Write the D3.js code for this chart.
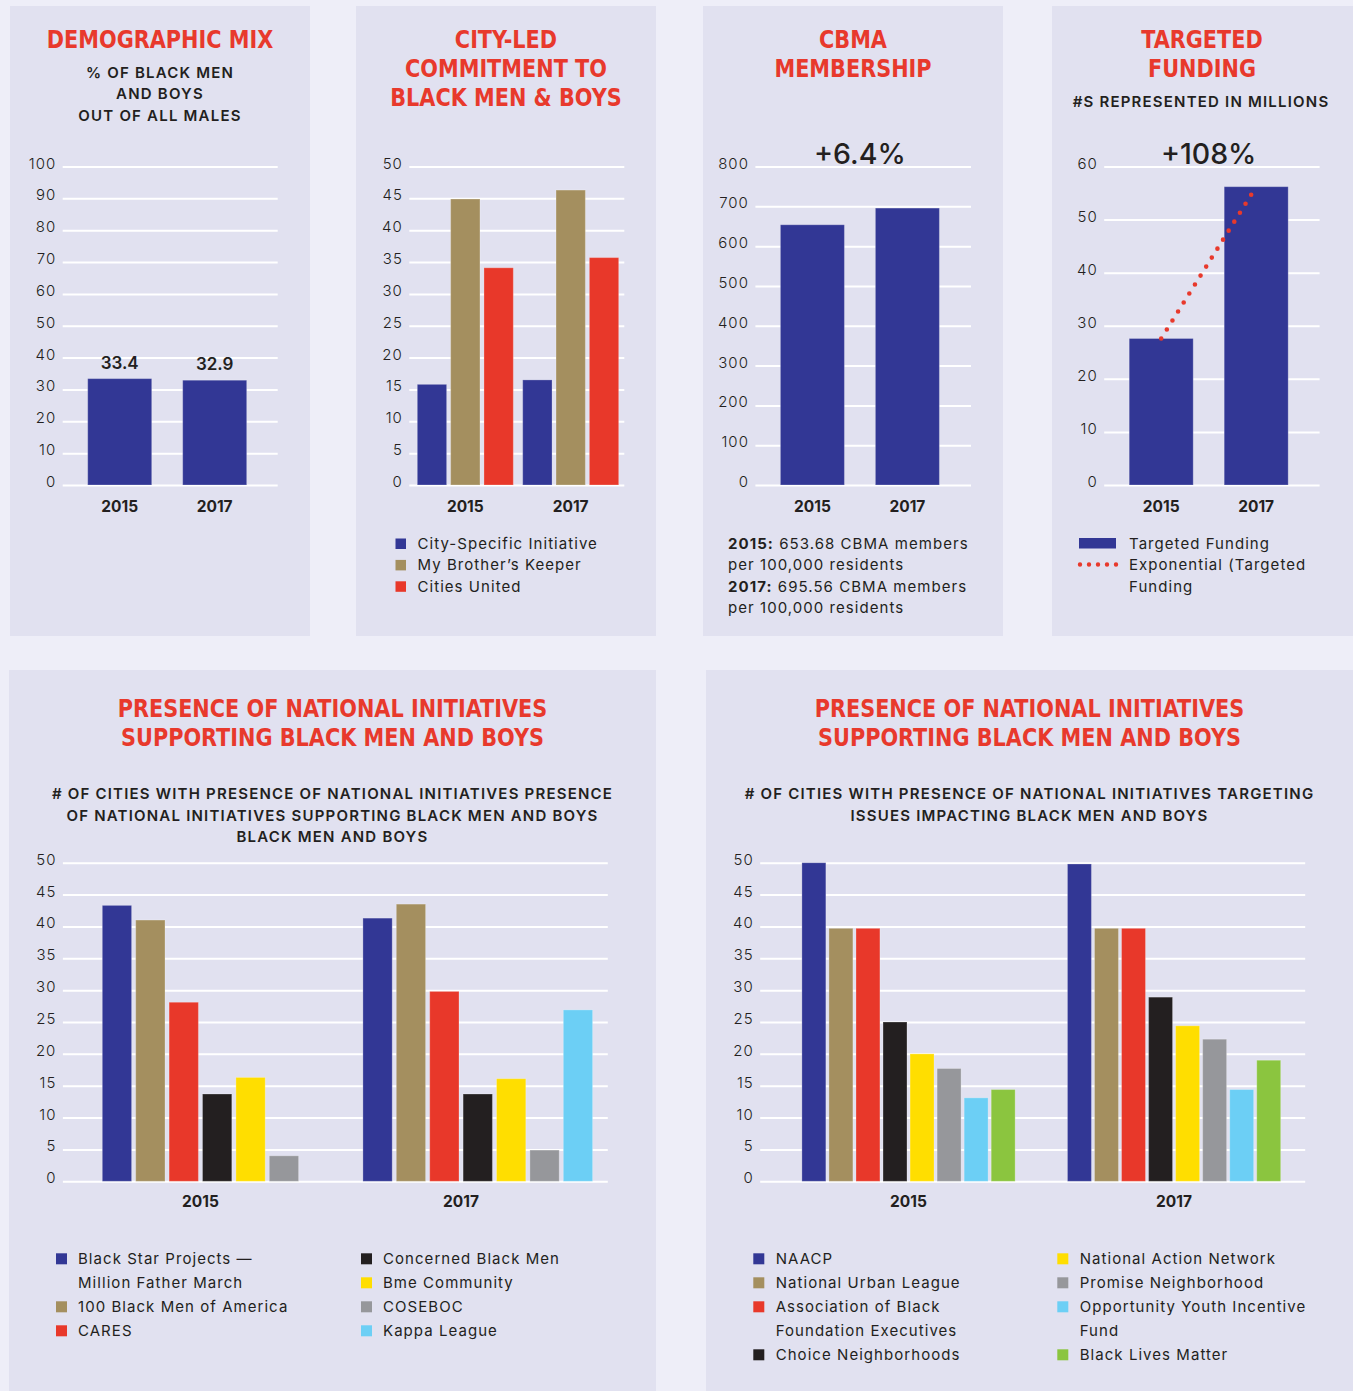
<!DOCTYPE html>
<html>
<head>
<meta charset="utf-8">
<script src="https://cdn.jsdelivr.net/npm/d3@7"></script>
<style>
  body { margin: 0; background: #eeeef8; }
  svg { display: block; }
  .title { font-family: "Liberation Sans Narrow", "Arial Narrow", "DejaVu Sans Condensed", sans-serif; font-weight: 700; font-size: 25px; fill: #e8392c; text-anchor: middle; }
  .sub { font-family: Inter, sans-serif; font-weight: 600; font-size: 15px; letter-spacing: 1.2px; fill: #231f20; text-anchor: middle; }
  .grid text { font-family: Inter, sans-serif; font-weight: 300; font-size: 15px; letter-spacing: 1px; fill: #231f20; }
  .cat { font-family: Inter, sans-serif; font-weight: 700; font-size: 15.5px; fill: #231f20; text-anchor: middle; }
  .val { font-family: Inter, sans-serif; font-weight: 600; font-size: 17px; fill: #231f20; text-anchor: middle; }
  .big { font-family: Inter, sans-serif; font-weight: 500; font-size: 28.5px; fill: #231f20; text-anchor: middle; }
  .leg { font-family: Inter, sans-serif; font-weight: 400; font-size: 15px; letter-spacing: 1.05px; fill: #231f20; }
</style>
</head>
<body>
<div id="chart"></div>
<script>
const width = 1353, height = 1391;

// shared
const years = ["2015", "2017"];
const palette = ["#323795", "#a48f5f", "#e8382a", "#231f20", "#ffde00", "#96979b", "#6ccff5", "#8bc53f"];

// demographic mix
const demoValues = [33.4, 32.9];
const demoTicks = [0, 10, 20, 30, 40, 50, 60, 70, 80, 90, 100];

// city-led commitment
const citySeries = ["City-Specific Initiative", "My Brother’s Keeper", "Cities United"];
const city2015 = [15.8, 44.9, 34.1];
const city2017 = [16.5, 46.3, 35.7];
const cityTicks = [0, 5, 10, 15, 20, 25, 30, 35, 40, 45, 50];

// cbma membership
const cbmaValues = [653.68, 695.56];
const cbmaTicks = [0, 100, 200, 300, 400, 500, 600, 700, 800];
const cbmaChange = "+6.4%";

// targeted funding (millions)
const fundValues = [27.6, 56.2];
const fundTicks = [0, 10, 20, 30, 40, 50, 60];
const fundChange = "+108%";

// national initiatives supporting black men and boys
const natSeries = ["Black Star Projects —\nMillion Father March", "100 Black Men of America", "CARES",
  "Concerned Black Men", "Bme Community", "COSEBOC", "Kappa League"];
const nat2015 = [43.3, 41.0, 28.1, 13.7, 16.3, 4.0, null];
const nat2017 = [41.3, 43.5, 29.8, 13.7, 16.1, 4.9, 26.9];

// national initiatives targeting issues
const tgtSeries = ["NAACP", "National Urban League", "Association of Black\nFoundation Executives",
  "Choice Neighborhoods", "National Action Network", "Promise Neighborhood",
  "Opportunity Youth Incentive\nFund", "Black Lives Matter"];
const tgt2015 = [50.0, 39.7, 39.7, 25.0, 20.0, 17.7, 13.1, 14.4];
const tgt2017 = [49.8, 39.7, 39.7, 28.9, 24.4, 22.3, 14.4, 19.0];
const countTicks = [0, 5, 10, 15, 20, 25, 30, 35, 40, 45, 50];

const svg = d3.select("#chart").append("svg")
  .attr("width", width)
  .attr("height", height);

svg.append("rect").attr("width", width).attr("height", height).attr("fill", "#eeeef8");

// panels
const panels = [[10, 6, 300, 630], [356, 6, 300, 630], [703, 6, 300, 630], [1052, 6, 301, 630],
  [9, 670, 647, 721], [706, 670, 647, 721]];
svg.append("g").selectAll("rect").data(panels).join("rect")
  .attr("x", d => d[0]).attr("y", d => d[1])
  .attr("width", d => d[2]).attr("height", d => d[3])
  .attr("fill", "#e1e1f0");

function lines(cls, cx, y0, step, arr) {
  svg.append("g").selectAll("text").data(arr).join("text")
    .attr("class", cls)
    .attr("x", cx)
    .attr("y", (d, i) => y0 + i * step)
    .text(d => d);
}

function grid(x1, x2, y, ticks) {
  svg.append("g")
    .attr("class", "grid")
    .attr("transform", `translate(${x1},0)`)
    .call(d3.axisLeft(y).tickValues(ticks).tickSize(-(x2 - x1)).tickPadding(6.5))
    .call(g => g.select(".domain").remove())
    .call(g => g.selectAll("line").attr("stroke", "#fff").attr("stroke-width", 2))
    .call(g => g.selectAll("text").attr("dy", "0.1em"));
}

// two-bar charts (top row)
function simpleBars(gx1, gx2, values, max, ticks) {
  const y = d3.scaleLinear().domain([0, max]).range([485, 166.5]);
  const x = d3.scaleBand().domain(years).range([gx1 + 25, gx1 + 184]).paddingInner(0.326);
  grid(gx1, gx2, y, ticks);
  svg.append("g").selectAll("rect").data(values).join("rect")
    .attr("x", (d, i) => x(years[i]))
    .attr("y", d => y(d))
    .attr("width", x.bandwidth())
    .attr("height", d => y(0) - y(d))
    .attr("fill", palette[0])
    .attr("stroke", "rgba(255,255,255,0.25)");
  svg.append("g").selectAll("text").data(years).join("text")
    .attr("class", "cat")
    .attr("x", d => x(d) + x.bandwidth() / 2)
    .attr("y", 512)
    .text(d => d);
  return { x, y };
}

// grouped bars
function groupedBars(x0, x1, y, seriesValues) {
  const rows = [];
  years.forEach((yr, yi) => seriesValues[yi].forEach((v, si) => {
    if (v != null) rows.push({ yr, si, v });
  }));
  svg.append("g").selectAll("rect").data(rows).join("rect")
    .attr("x", d => x0(d.yr) + x1(d.si))
    .attr("y", d => y(d.v))
    .attr("width", x1.bandwidth())
    .attr("height", d => y(0) - y(d.v))
    .attr("fill", d => palette[d.si])
    .attr("stroke", "rgba(255,255,255,0.25)");
}

// ---------- 1. demographic mix ----------
lines("title", 160, 47.5, 29, ["DEMOGRAPHIC MIX"]);
lines("sub", 160, 77.6, 21.7, ["% OF BLACK MEN", "AND BOYS", "OUT OF ALL MALES"]);
const demo = simpleBars(62.7, 277.7, demoValues, 100, demoTicks);
svg.append("g").selectAll("text").data(demoValues).join("text")
  .attr("class", "val")
  .attr("x", (d, i) => demo.x(years[i]) + demo.x.bandwidth() / 2)
  .attr("y", d => demo.y(d) - 10)
  .text(d => d);

// ---------- 2. city-led commitment ----------
lines("title", 506, 47.5, 29, ["CITY-LED", "COMMITMENT TO", "BLACK MEN & BOYS"]);
{
  const y = d3.scaleLinear().domain([0, 50]).range([485, 166.5]);
  const x0 = d3.scaleBand().domain(years).range([417.3, 618.7]).paddingInner(0.089);
  const x1 = d3.scaleBand().domain(d3.range(citySeries.length)).range([0, x0.bandwidth()]).paddingInner(0.12);
  grid(409.3, 624.3, y, cityTicks);
  groupedBars(x0, x1, y, [city2015, city2017]);
  svg.append("g").selectAll("text").data(years).join("text")
    .attr("class", "cat")
    .attr("x", d => x0(d) + x0.bandwidth() / 2)
    .attr("y", 512)
    .text(d => d);
  const leg = svg.append("g").selectAll("g").data(citySeries).join("g")
    .attr("transform", (d, i) => `translate(395.5,${549 + i * 21.4})`);
  leg.append("rect").attr("y", -10.5).attr("width", 10.5).attr("height", 10.5)
    .attr("fill", (d, i) => palette[i]);
  leg.append("text").attr("class", "leg").attr("x", 22).text(d => d);
}

// ---------- 3. cbma membership ----------
lines("title", 853, 47.5, 29, ["CBMA", "MEMBERSHIP"]);
{
  const c = simpleBars(755.4, 971, cbmaValues, 800, cbmaTicks);
  svg.append("text").attr("class", "big")
    .attr("x", (c.x(years[0]) + c.x(years[1]) + c.x.bandwidth()) / 2)
    .attr("y", 164)
    .text(cbmaChange);
  const notes = svg.append("g").selectAll("text").data(years).join("text")
    .attr("class", "leg")
    .attr("x", 728);
  notes.each(function (d, i) {
    const t = d3.select(this);
    t.append("tspan").attr("x", 728).attr("y", 549 + i * 42.8)
      .attr("font-weight", 700).text(d + ":");
    t.append("tspan")
      .text(` ${d3.format(".2f")(cbmaValues[i])} CBMA members`);
    t.append("tspan").attr("x", 728).attr("y", 570.4 + i * 42.8)
      .text("per 100,000 residents");
  });
}

// ---------- 4. targeted funding ----------
lines("title", 1202, 47.5, 29, ["TARGETED", "FUNDING"]);
lines("sub", 1201, 107, 0, ["#S REPRESENTED IN MILLIONS"]);
{
  const f = simpleBars(1104.2, 1319.6, fundValues, 60, fundTicks);
  svg.append("text").attr("class", "big")
    .attr("x", (f.x(years[0]) + f.x(years[1]) + f.x.bandwidth()) / 2)
    .attr("y", 164)
    .text(fundChange);
  svg.append("path")
    .datum(fundValues)
    .attr("fill", "none")
    .attr("stroke", "#e8392c")
    .attr("stroke-width", 4.6)
    .attr("stroke-linecap", "round")
    .attr("stroke-dasharray", "0 10.6")
    .attr("d", d3.line()
      .x((d, i) => f.x(years[i]) + f.x.bandwidth() / 2)
      .y(d => f.y(d)));
  svg.append("rect").attr("x", 1079).attr("y", 538).attr("width", 37).attr("height", 10.5)
    .attr("fill", palette[0]);
  svg.append("line").attr("x1", 1080).attr("x2", 1117).attr("y1", 564.5).attr("y2", 564.5)
    .attr("stroke", "#e8392c").attr("stroke-width", 4.4).attr("stroke-linecap", "round")
    .attr("stroke-dasharray", "0 9");
  svg.append("g").selectAll("text")
    .data(["Targeted Funding", "Exponential (Targeted", "Funding"]).join("text")
    .attr("class", "leg")
    .attr("x", 1129)
    .attr("y", (d, i) => 549 + i * 21.4)
    .text(d => d);
}

// ---------- bottom legends ----------
function legend(series, cols, xs, textDx) {
  cols.forEach((idx, c) => {
    let row = 0;
    idx.forEach(si => {
      const parts = series[si].split("\n");
      const g = svg.append("g").attr("transform", `translate(${xs[c]},${1264.3 + row * 24})`);
      g.append("rect").attr("y", -11).attr("width", 11).attr("height", 11).attr("fill", palette[si]);
      g.append("g").selectAll("text").data(parts).join("text")
        .attr("class", "leg")
        .attr("x", textDx)
        .attr("y", (d, i) => i * 24)
        .text(d => d);
      row += parts.length;
    });
  });
}

// ---------- 5. national initiatives supporting ----------
lines("title", 332.5, 717, 29, ["PRESENCE OF NATIONAL INITIATIVES", "SUPPORTING BLACK MEN AND BOYS"]);
lines("sub", 332.5, 799.3, 21.3, ["# OF CITIES WITH PRESENCE OF NATIONAL INITIATIVES PRESENCE",
  "OF NATIONAL INITIATIVES SUPPORTING BLACK MEN AND BOYS", "BLACK MEN AND BOYS"]);
{
  const y = d3.scaleLinear().domain([0, 50]).range([1181.3, 862.7]);
  const x0 = d3.scaleBand().domain(years).range([102.3, 592.6]).paddingInner(0.1186);
  const x1 = d3.scaleBand().domain(d3.range(natSeries.length)).range([0, x0.bandwidth()]).paddingInner(0.123);
  grid(62.9, 607.8, y, countTicks);
  groupedBars(x0, x1, y, [nat2015, nat2017]);
  svg.append("g").selectAll("text").data(years).join("text")
    .attr("class", "cat")
    .attr("x", d => x0(d) + x0.bandwidth() / 2 - x1.step() / 2)
    .attr("y", 1207)
    .text(d => d);
  legend(natSeries, [[0, 1, 2], [3, 4, 5, 6]], [56, 361], 22);
}

// ---------- 6. national initiatives targeting ----------
lines("title", 1029.5, 717, 29, ["PRESENCE OF NATIONAL INITIATIVES", "SUPPORTING BLACK MEN AND BOYS"]);
lines("sub", 1029.5, 799.3, 21.3, ["# OF CITIES WITH PRESENCE OF NATIONAL INITIATIVES TARGETING",
  "ISSUES IMPACTING BLACK MEN AND BOYS"]);
{
  const y = d3.scaleLinear().domain([0, 50]).range([1181.3, 862.7]);
  const x0 = d3.scaleBand().domain(years).range([801.9, 1280.7]).paddingInner(0.197);
  const x1 = d3.scaleBand().domain(d3.range(tgtSeries.length)).range([0, x0.bandwidth()]).paddingInner(0.114);
  grid(760.2, 1305.2, y, countTicks);
  groupedBars(x0, x1, y, [tgt2015, tgt2017]);
  svg.append("g").selectAll("text").data(years).join("text")
    .attr("class", "cat")
    .attr("x", d => x0(d) + x0.bandwidth() / 2)
    .attr("y", 1207)
    .text(d => d);
  legend(tgtSeries, [[0, 1, 2, 3], [4, 5, 6, 7]], [753.3, 1057.3], 22.4);
}

// squeeze the condensed titles a little, the poster face is narrower
svg.selectAll(".title").each(function () {
  const w = this.getComputedTextLength();
  d3.select(this).attr("textLength", w * 0.925).attr("lengthAdjust", "spacingAndGlyphs");
});
</script>
</body>
</html>
